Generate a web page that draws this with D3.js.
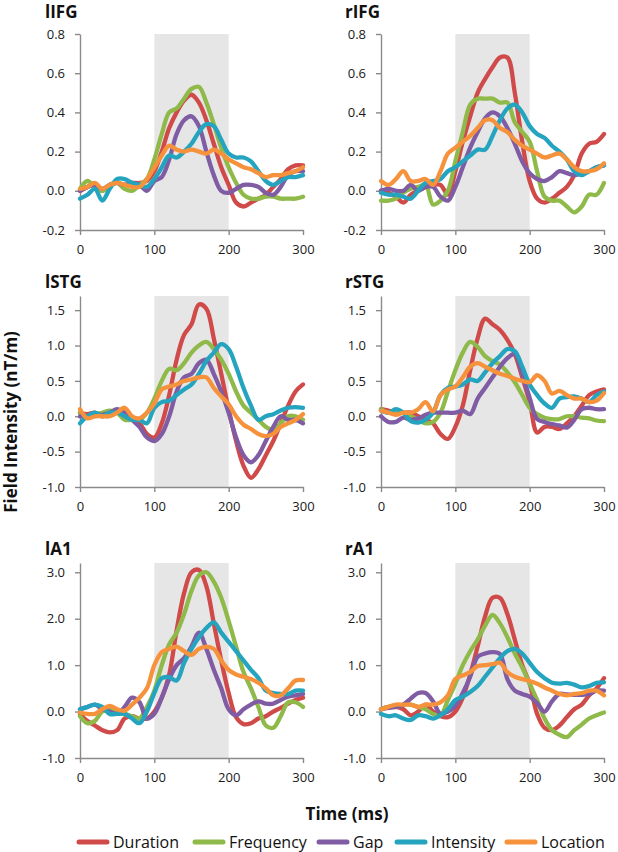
<!DOCTYPE html>
<html>
<head>
<meta charset="utf-8">
<script src="https://cdn.jsdelivr.net/npm/d3@7"></script>
<style>
  html, body { margin: 0; padding: 0; background: #fff; }
  svg { display: block; font-family: "Open Sans", "Liberation Sans", sans-serif; }
</style>
</head>
<body>
<svg id="chart" width="618" height="852"></svg>
<script>
// ---- data ----
const times = [0,10,20,30,40,50,60,70,80,90,100,110,120,130,140,150,160,170,180,190,200,210,220,230,240,250,260,270,280,290,300];
const seriesNames = ["Duration", "Frequency", "Gap", "Intensity", "Location"];
const seriesColors = ["#cf4a48", "#8fba4a", "#7f5ca3", "#25a4bf", "#f7923c"];
const xTicks = [0, 100, 200, 300];
const stimWindow = [100, 200];

const lIFG = {
  Duration:  [0.00,0.02,0.03,0.00,0.03,0.04,0.03,0.04,0.04,0.05,0.10,0.20,0.32,0.40,0.46,0.49,0.45,0.36,0.24,0.12,0.03,-0.06,-0.08,-0.06,-0.04,-0.02,0.02,0.06,0.11,0.13,0.13],
  Frequency: [0.01,0.05,0.02,0.00,0.03,0.04,0.01,0.00,0.03,0.06,0.16,0.29,0.40,0.42,0.47,0.52,0.53,0.45,0.34,0.22,0.12,0.04,-0.02,-0.04,-0.04,-0.03,-0.03,-0.04,-0.04,-0.04,-0.03],
  Gap:       [0.00,0.02,0.03,0.01,0.03,0.04,0.03,0.04,0.03,0.00,0.05,0.07,0.16,0.29,0.36,0.38,0.33,0.20,0.08,0.00,-0.01,0.01,0.03,0.03,0.02,-0.01,-0.02,0.02,0.08,0.10,0.10],
  Intensity: [-0.04,-0.02,0.01,-0.05,0.01,0.06,0.06,0.04,0.03,0.02,0.06,0.12,0.18,0.17,0.20,0.24,0.30,0.34,0.33,0.26,0.19,0.17,0.17,0.15,0.10,0.05,0.03,0.05,0.07,0.07,0.08],
  Location:  [0.01,0.02,0.04,0.01,0.03,0.04,0.03,0.02,0.02,0.06,0.12,0.18,0.23,0.21,0.20,0.21,0.20,0.19,0.21,0.19,0.16,0.14,0.12,0.11,0.09,0.07,0.08,0.08,0.09,0.10,0.12]
};
const rIFG = {
  Duration:  [0.00,-0.01,-0.03,-0.06,-0.02,0.00,0.02,0.03,0.03,-0.02,0.10,0.25,0.38,0.50,0.57,0.63,0.68,0.68,0.50,0.25,0.05,-0.04,-0.06,-0.04,-0.01,0.02,0.08,0.19,0.24,0.25,0.29],
  Frequency: [-0.05,-0.05,-0.04,-0.01,0.01,0.02,0.03,-0.07,-0.05,0.00,0.15,0.30,0.44,0.47,0.47,0.47,0.45,0.45,0.35,0.30,0.25,0.10,-0.03,-0.05,-0.05,-0.08,-0.11,-0.08,-0.02,-0.02,0.04],
  Gap:       [0.00,0.01,0.00,0.00,0.03,0.00,0.02,0.02,-0.03,-0.05,0.02,0.12,0.22,0.30,0.37,0.40,0.38,0.32,0.24,0.15,0.09,0.06,0.05,0.07,0.10,0.09,0.08,0.09,0.10,0.12,0.13],
  Intensity: [-0.01,-0.02,-0.02,-0.03,-0.04,0.00,0.04,0.05,0.06,0.10,0.12,0.15,0.18,0.21,0.21,0.28,0.36,0.42,0.44,0.40,0.33,0.29,0.27,0.23,0.20,0.16,0.10,0.08,0.10,0.12,0.13],
  Location:  [0.05,0.03,0.06,0.10,0.05,0.05,0.06,0.03,0.10,0.19,0.22,0.25,0.28,0.32,0.36,0.36,0.32,0.30,0.26,0.23,0.21,0.19,0.17,0.18,0.19,0.16,0.12,0.10,0.10,0.11,0.14]
};
const lSTG = {
  Duration:  [0.05,0.03,0.05,0.00,0.05,0.08,0.00,-0.05,-0.10,-0.25,-0.30,-0.10,0.30,0.80,1.15,1.30,1.58,1.52,1.10,0.60,0.10,-0.35,-0.70,-0.87,-0.75,-0.55,-0.35,-0.10,0.15,0.35,0.45],
  Frequency: [0.05,0.00,0.03,0.05,0.08,0.05,-0.05,-0.05,-0.05,0.05,0.25,0.50,0.67,0.65,0.75,0.90,1.00,1.05,0.95,0.80,0.60,0.35,0.15,0.05,-0.05,-0.15,-0.20,-0.10,0.00,0.00,-0.05],
  Gap:       [0.00,0.00,0.03,0.02,0.05,0.10,0.05,-0.05,-0.15,-0.30,-0.35,-0.25,0.00,0.35,0.55,0.60,0.75,0.80,0.60,0.35,0.05,-0.30,-0.55,-0.65,-0.55,-0.35,-0.15,0.00,-0.05,-0.05,-0.10],
  Intensity: [-0.10,0.00,0.05,0.00,0.05,0.05,0.00,-0.05,-0.05,-0.10,0.12,0.20,0.22,0.30,0.38,0.45,0.60,0.78,0.90,1.02,0.95,0.70,0.40,0.15,-0.05,0.00,0.03,0.08,0.12,0.13,0.12],
  Location:  [0.10,-0.03,0.00,0.00,0.00,0.05,0.12,0.00,-0.03,0.05,0.18,0.38,0.42,0.45,0.50,0.52,0.55,0.55,0.40,0.28,0.17,0.00,-0.12,-0.18,-0.25,-0.28,-0.25,-0.15,-0.10,-0.05,0.03]
};
const rSTG = {
  Duration:  [0.10,0.08,0.05,0.05,0.05,0.00,-0.05,-0.10,-0.25,-0.32,-0.15,0.15,0.65,1.10,1.38,1.30,1.22,1.08,0.88,0.55,0.20,-0.23,-0.15,-0.15,-0.18,-0.10,0.00,0.15,0.30,0.35,0.38],
  Frequency: [0.10,0.05,0.08,0.05,0.00,-0.05,-0.10,-0.08,0.05,0.35,0.65,0.90,1.05,0.98,0.85,0.78,0.73,0.62,0.48,0.30,0.12,0.03,-0.02,-0.04,-0.04,0.00,0.00,-0.02,-0.03,-0.06,-0.07],
  Gap:       [0.00,-0.08,-0.08,-0.02,-0.05,-0.03,0.02,0.05,0.05,0.05,0.05,0.08,0.03,0.25,0.40,0.55,0.70,0.82,0.88,0.60,0.26,-0.04,-0.08,-0.11,-0.13,-0.16,-0.05,0.10,0.12,0.10,0.10],
  Intensity: [0.08,0.05,0.10,0.05,-0.07,-0.09,-0.05,0.05,0.30,0.40,0.42,0.45,0.52,0.50,0.62,0.75,0.85,0.95,0.92,0.70,0.45,0.30,0.18,0.12,0.25,0.27,0.28,0.25,0.20,0.30,0.35],
  Location:  [0.08,0.05,0.02,0.05,0.05,0.10,0.20,0.07,0.30,0.38,0.42,0.55,0.70,0.75,0.70,0.65,0.60,0.57,0.53,0.50,0.48,0.58,0.50,0.32,0.36,0.30,0.25,0.25,0.20,0.22,0.33]
};
const lA1 = {
  Duration:  [-0.05,-0.20,-0.30,-0.40,-0.45,-0.40,-0.15,-0.10,-0.15,-0.15,0.00,0.30,0.80,1.75,2.55,3.00,3.05,2.70,1.90,1.10,0.40,-0.12,-0.27,-0.25,-0.15,-0.10,0.00,0.08,0.17,0.25,0.30],
  Frequency: [-0.10,-0.25,-0.20,0.00,0.05,0.00,-0.05,-0.10,-0.15,0.10,0.45,1.00,1.45,1.70,2.10,2.60,2.93,3.00,2.80,2.45,1.95,1.40,0.85,0.50,0.10,-0.30,-0.35,-0.10,0.20,0.20,0.10],
  Gap:       [0.05,0.10,0.15,0.05,0.00,-0.05,0.10,0.30,0.20,-0.15,-0.05,0.30,0.70,1.00,1.15,1.40,1.70,1.35,0.90,0.50,0.05,-0.08,0.05,0.15,0.22,0.17,0.17,0.25,0.32,0.35,0.38],
  Intensity: [0.05,0.10,0.15,0.10,-0.05,-0.05,-0.05,-0.15,-0.25,0.00,0.40,0.72,0.74,0.67,1.05,1.35,1.60,1.80,1.92,1.70,1.50,1.30,1.10,0.90,0.72,0.45,0.40,0.38,0.38,0.45,0.45],
  Location:  [-0.02,-0.05,-0.05,0.05,0.12,0.05,0.02,0.15,0.30,0.50,1.00,1.28,1.35,1.40,1.30,1.22,1.35,1.40,1.35,1.10,0.90,0.80,0.75,0.70,0.62,0.50,0.35,0.35,0.50,0.67,0.68]
};
const rA1 = {
  Duration:  [0.05,0.10,0.10,0.05,-0.08,0.00,0.15,0.00,-0.10,-0.12,0.00,0.30,0.80,1.40,2.05,2.45,2.45,2.10,1.55,1.00,0.60,-0.05,-0.35,-0.40,-0.30,-0.12,0.05,0.15,0.35,0.50,0.72],
  Frequency: [0.05,0.10,0.10,0.15,0.15,0.10,0.05,-0.05,-0.08,0.25,0.60,1.00,1.30,1.55,1.85,2.08,1.90,1.60,1.25,0.95,0.60,0.25,-0.15,-0.40,-0.50,-0.55,-0.40,-0.28,-0.15,-0.08,-0.02],
  Gap:       [0.05,0.08,0.10,0.15,0.28,0.40,0.40,0.22,-0.05,0.00,0.12,0.40,0.75,1.18,1.25,1.28,1.24,0.70,0.45,0.38,0.32,0.18,0.00,0.22,0.38,0.37,0.36,0.36,0.38,0.45,0.45],
  Intensity: [-0.05,-0.10,-0.08,-0.15,-0.18,-0.08,-0.10,-0.15,-0.08,0.05,0.25,0.32,0.42,0.55,0.75,0.95,1.15,1.30,1.35,1.25,1.05,0.85,0.72,0.62,0.60,0.62,0.58,0.52,0.55,0.62,0.63],
  Location:  [0.05,0.10,0.15,0.15,0.15,0.10,0.15,0.15,0.20,0.35,0.70,0.78,0.85,0.98,1.00,1.02,1.05,0.85,0.75,0.70,0.66,0.60,0.52,0.45,0.38,0.35,0.38,0.40,0.45,0.45,0.35]
};

const row1Domain = [-0.2, 0.8], row1Ticks = [-0.2, 0, 0.2, 0.4, 0.6, 0.8];
const row2Domain = [-1.0, 1.7], row2Ticks = [-1.0, -0.5, 0, 0.5, 1.0, 1.5];
const row3Domain = [-1.0, 3.2], row3Ticks = [-1.0, 0, 1.0, 2.0, 3.0];

// ---- layout ----
const colX = [[80, 303], [381, 604]];
const rowY = [[230, 34], [487, 296], [758, 563]];
const titleBase = [18, 288, 555];
const titleX = [45, 345];

const panels = [
  {name: "lIFG", data: lIFG, col: 0, row: 0, domain: row1Domain, ticks: row1Ticks},
  {name: "rIFG", data: rIFG, col: 1, row: 0, domain: row1Domain, ticks: row1Ticks},
  {name: "lSTG", data: lSTG, col: 0, row: 1, domain: row2Domain, ticks: row2Ticks},
  {name: "rSTG", data: rSTG, col: 1, row: 1, domain: row2Domain, ticks: row2Ticks},
  {name: "lA1",  data: lA1,  col: 0, row: 2, domain: row3Domain, ticks: row3Ticks},
  {name: "rA1",  data: rA1,  col: 1, row: 2, domain: row3Domain, ticks: row3Ticks}
];

const svg = d3.select("#chart");
const axisColor = "#8a8a8a";
const color = d3.scaleOrdinal().domain(seriesNames).range(seriesColors);

panels.forEach(p => {
  const x = d3.scaleLinear().domain([0, 300]).range(colX[p.col]);
  const y = d3.scaleLinear().domain(p.domain).range(rowY[p.row]);
  const g = svg.append("g");

  g.append("rect")
    .attr("x", x(stimWindow[0]))
    .attr("y", y(p.domain[1]))
    .attr("width", x(stimWindow[1]) - x(stimWindow[0]))
    .attr("height", y(p.domain[0]) - y(p.domain[1]))
    .attr("fill", "#e6e6e6");

  const yAxis = g.append("g")
    .attr("transform", `translate(${x(0)},0)`)
    .call(d3.axisLeft(y).tickValues(p.ticks).tickSize(5).tickSizeOuter(0).tickPadding(10)
      .tickFormat(v => v.toFixed(1)));
  const xAxis = g.append("g")
    .attr("transform", `translate(0,${y(p.domain[0])})`)
    .call(d3.axisBottom(x).tickValues(xTicks).tickSize(5).tickSizeOuter(0).tickPadding(10)
      .tickFormat(d3.format("d")));
  [yAxis, xAxis].forEach(a => {
    a.select(".domain").attr("stroke", axisColor).attr("stroke-width", 1.4);
    a.selectAll(".tick line").attr("stroke", axisColor).attr("stroke-width", 1.4);
    a.selectAll(".tick text").attr("fill", "#1a1a1a").style("font-size", "13px")
      .style("font-family", "'Open Sans', sans-serif");
  });

  const line = d3.line()
    .x((d, i) => x(times[i]))
    .y(d => y(d))
    .curve(d3.curveCatmullRom.alpha(0.5));

  seriesNames.forEach(s => {
    g.append("path")
      .datum(p.data[s])
      .attr("d", line)
      .attr("fill", "none")
      .attr("stroke", color(s))
      .attr("stroke-width", 4.3)
      .attr("stroke-linejoin", "round")
      .attr("stroke-linecap", "round");
  });

  g.append("text")
    .attr("x", titleX[p.col])
    .attr("y", titleBase[p.row])
    .attr("font-size", 17)
    .attr("font-weight", "bold")
    .attr("fill", "#111")
    .text(p.name);
});

// axis titles
svg.append("text")
  .attr("transform", "translate(17,422) rotate(-90)")
  .attr("text-anchor", "middle")
  .attr("font-size", 17)
  .attr("font-weight", "bold")
  .attr("fill", "#111")
  .text("Field Intensity (nT/m)");

svg.append("text")
  .attr("x", 347)
  .attr("y", 820)
  .attr("text-anchor", "middle")
  .attr("font-size", 17)
  .attr("font-weight", "bold")
  .attr("fill", "#111")
  .text("Time (ms)");

// legend
const legendX = [77, 193, 317, 395, 505];
const legend = svg.append("g");
seriesNames.forEach((s, i) => {
  const lg = legend.append("g").attr("transform", `translate(${legendX[i]},842)`);
  lg.append("line").attr("x1", 2).attr("x2", 30).attr("y1", 0).attr("y2", 0)
    .attr("stroke", color(s)).attr("stroke-width", 5).attr("stroke-linecap", "round");
  lg.append("text").attr("x", 36).attr("y", 5.5)
    .attr("font-size", 16).attr("fill", "#111").text(s);
});
</script>
</body>
</html>
